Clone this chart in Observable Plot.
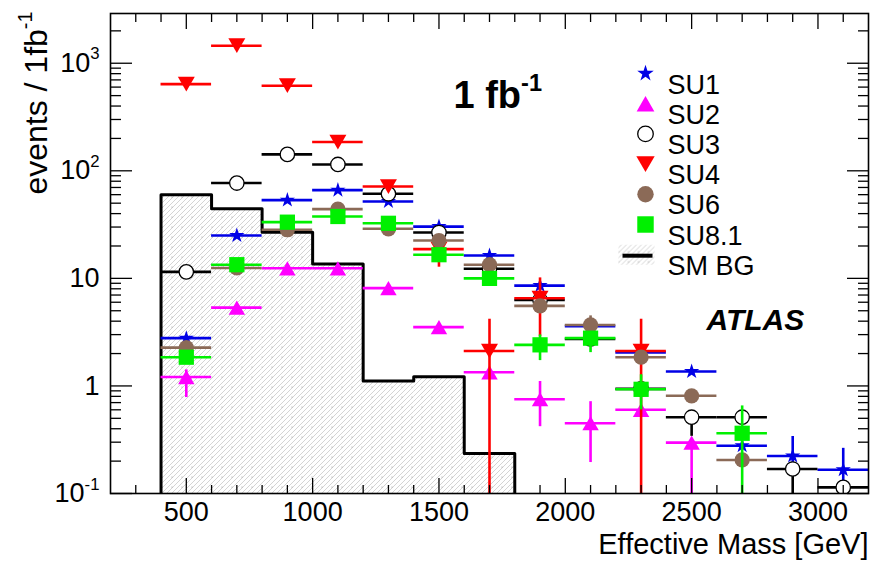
<!DOCTYPE html>
<html><head><meta charset="utf-8">
<script src="https://cdn.jsdelivr.net/npm/d3@7"></script>
<script src="https://cdn.jsdelivr.net/npm/@observablehq/plot@0.6"></script>
<style>body{margin:0;background:#fff}</style>
</head><body><div id="chart"></div><script>
// ---- data ----
const binCenters = [500,700,900,1100,1300,1500,1700,1900,2100,2300,2500,2700,2900,3100];
const binWidth = 200;
const seriesNames = ["SU1","SU2","SU3","SU4","SU6","SU8.1"];
const seriesColors = ["#0000e6","#ff00ff","#000000","#ff0000","#8b6a57","#00f000"];

const su1   = [2.78, 25.0, 53.4, 66.1, 51.8, 30.3, 16.3, 8.57, 3.6, 2.05, 1.36, 0.278, 0.223, 0.166];
const su1Lo = [null,null,null,null,null,null,null,null,null,null,null,null,0.15,0.05];
const su1Hi = [null,null,null,null,null,null,null,null,null,null,null,null,0.339,0.263];

const su2   = [1.21, 5.35, 12.4, 12.4, 8.11, 3.52, 1.34, 0.752, 0.45, 0.60, 0.297, null, null, null];
const su2Lo = [0.78,null,null,null,null,null,null,0.418,0.194,null,0.05,null,null,null];
const su2Hi = [1.41,null,null,null,null,null,null,1.10,0.714,null,null,null,null,null];

const su3   = [11.5, 76.9, 142, 114.6, 61.1, 26.7, 12.3, 6.3, 2.74, 0.94, 0.512, 0.512, 0.169, 0.114];
const su3Lo = [null,null,null,null,null,null,null,null,null,null,0.34,null,0.05,null];
const su3Hi = [null,null,null,null,null,null,null,null,null,null,null,null,null,null];

const su4   = [640, 1455, 618, 185, 71.4, 18.7, 2.11, 6.54, null, 2.11, null, null, null, null];
const su4Lo = [null,null,null,null,null,12.7,0.05,2.87,null,0.05,null,null,null,null];
const su4Hi = [null,null,null,null,null,null,4.17,10.1,null,4.17,null,null,null,null];

const su6   = [2.27, 12.5, 28.3, 44.0, 28.9, 22.5, 13.4, 5.55, 3.69, 1.85, 0.81, 0.205, null, null];
const su6Lo = [null,null,null,null,null,null,null,null,null,null,null,null,null,null];
const su6Hi = [null,null,null,null,null,null,null,null,4.48,null,null,null,null,null];

const su81   = [1.85, 13.4, 33.3, 37.6, 32.5, 16.6, 10.0, 2.41, 2.78, 0.93, null, 0.363, null, null];
const su81Lo = [null,null,null,null,null,null,null,1.72,2.04,0.6,null,0.05,null,null];
const su81Hi = [null,null,null,null,null,null,null,2.98,null,1.27,null,0.652,null,null];

const bgEdges  = [400,600,800,1000,1200,1400,1600,1800];
const bgValues = [59.8, 44.3, 26.9, 13.6, 1.11, 1.22, 0.236];

const xDomain = [200, 3200];
const yDomain = [0.1, 2900];
const xMajor = [500,1000,1500,2000,2500,3000];
const xTickLabels = ["500","1000","1500","2000","2500","3000"];
const yMajor = [0.1, 1, 10, 100, 1000];
const yTickLabels = ["10^-1","1","10","10^2","10^3"];

// ---- helpers ----
const xMinor = d3.range(300, 3200, 100).filter(v => v % 500 !== 0);
const yMinor = [];
yMajor.forEach(m => { for (let k = 2; k <= 9; k++) if (m*k < yDomain[1]) yMinor.push(m*k); });

const triUp = {draw(ctx, size){ const s=Math.sqrt(size*4/Math.sqrt(3)), h=s*Math.sqrt(3)/2;
  ctx.moveTo(0,-h/2); ctx.lineTo(s/2,h/2); ctx.lineTo(-s/2,h/2); ctx.closePath(); }};
const triDown = {draw(ctx, size){ const s=Math.sqrt(size*4/Math.sqrt(3)), h=s*Math.sqrt(3)/2;
  ctx.moveTo(-s/2,-h/2); ctx.lineTo(s/2,-h/2); ctx.lineTo(0,h/2); ctx.closePath(); }};
const swatchBox = {draw(ctx){ ctx.rect(-18,-10,36,20); }};
const swatchBar = {draw(ctx){ ctx.rect(-15,-2,30,4); }};

const seriesVals = [[su1,su1Lo,su1Hi],[su2,su2Lo,su2Hi],[su3,su3Lo,su3Hi],[su4,su4Lo,su4Hi],[su6,su6Lo,su6Hi],[su81,su81Lo,su81Hi]];
const seriesStyle = [
  {symbol: "star", r: 4.8},
  {symbol: triUp, r: 6.1},
  {symbol: "circle", r: 7.2, hollow: true},
  {symbol: triDown, r: 6.3},
  {symbol: "circle", r: 7.6},
  {symbol: "square", r: 8.6}
];

const seriesMarks = [];
seriesNames.forEach((name, si) => {
  const [vals, lo, hi] = seriesVals[si];
  const color = seriesColors[si];
  const rows = binCenters.map((x, i) => ({x, v: vals[i], lo: lo[i] ?? vals[i], hi: hi[i] ?? vals[i], err: lo[i] != null || hi[i] != null}))
    .filter(d => d.v != null);
  seriesMarks.push(
    Plot.ruleY(rows, {x1: d => d.x - binWidth/2, x2: d => d.x + binWidth/2, y: "v", stroke: color, strokeWidth: 2.6, clip: true}),
    Plot.ruleX(rows.filter(d => d.err), {x: "x", y1: "lo", y2: "hi", stroke: color, strokeWidth: 2.6, clip: true}),
    Plot.dot(rows, {x: "x", y: "v", symbol: seriesStyle[si].symbol, r: seriesStyle[si].r,
      fill: seriesStyle[si].hollow ? "white" : color,
      stroke: seriesStyle[si].hollow ? "black" : "none", strokeWidth: 1.3, clip: true})
  );
});

const bgRows = bgValues.map((v, i) => ({x1: bgEdges[i], x2: bgEdges[i+1], v}));
const bgOutline = [{x: bgEdges[0], y: yDomain[0]}, ...bgValues.map((v, i) => ({x: bgEdges[i], y: v})), {x: bgEdges[bgEdges.length-1], y: yDomain[0]}];

// legend
const legendMarks = [];
const legX = 535, legTextX = 557, legY0 = 60, legStep = 30.2;
seriesNames.forEach((name, si) => {
  const st = seriesStyle[si];
  legendMarks.push(
    Plot.dot([0], {frameAnchor: "top-left", dx: legX, dy: legY0 + si*legStep, symbol: st.symbol, r: st.r*1.08,
      fill: st.hollow ? "white" : seriesColors[si], stroke: st.hollow ? "black" : "none", strokeWidth: 1.3}),
    Plot.text([name], {frameAnchor: "top-left", dx: legTextX, dy: legY0 + si*legStep + 1, text: d => d, textAnchor: "start", fontSize: 27})
  );
});
legendMarks.push(
  Plot.dot([0], {frameAnchor: "top-left", dx: legX - 9, dy: legY0 + 6*legStep, symbol: swatchBox, fill: "url(#smhatch)", stroke: "none"}),
  Plot.dot([0], {frameAnchor: "top-left", dx: legX - 8, dy: legY0 + 6*legStep + 1, symbol: swatchBar, fill: "black", stroke: "none"}),
  Plot.text(["SM BG"], {frameAnchor: "top-left", dx: legTextX, dy: legY0 + 6*legStep + 1, text: d => d, textAnchor: "start", fontSize: 27})
);

const plot = Plot.plot({
  width: 873, height: 565,
  marginLeft: 110, marginRight: 5, marginTop: 13, marginBottom: 72,
  style: {fontFamily: "'Liberation Sans', Arial, Helvetica, sans-serif", background: "white", color: "black", overflow: "visible"},
  x: {domain: xDomain},
  y: {type: "log", domain: yDomain},
  marks: [
    Plot.rect(bgRows, {x1: "x1", x2: "x2", y1: () => yDomain[0], y2: "v", fill: "url(#smhatch)", clip: true}),
    Plot.line(bgOutline, {x: "x", y: "y", curve: "step-after", stroke: "black", strokeWidth: 3, clip: true}),
    ...seriesMarks,
    ...legendMarks,
    Plot.text(["1 fb^-1"], {frameAnchor: "top-left", dx: 343, dy: 68, text: d => d, textAnchor: "start", fontSize: 38, fontWeight: "bold"}),
    Plot.text(["ATLAS"], {frameAnchor: "top-left", dx: 596, dy: 295, text: d => d, textAnchor: "start", fontSize: 30, fontWeight: "bold", fontStyle: "italic"}),
    Plot.text(["events / 1fb^-1"], {frameAnchor: "top-left", dx: -86, dy: -2, rotate: -90, text: d => d, textAnchor: "end", fontSize: 32}),
    Plot.text(["Effective Mass [GeV]"], {frameAnchor: "bottom-right", dx: 0, dy: 60, text: d => d, textAnchor: "end", fontSize: 29}),
    // axes: inward ticks
    Plot.axisX({anchor: "bottom", ticks: xMajor, tickSize: -15, text: null, label: null, strokeWidth: 1.3}),
    Plot.axisX({anchor: "bottom", ticks: xMinor, tickSize: -8, text: null, label: null, strokeWidth: 1.3}),
    Plot.axisX({anchor: "top", ticks: xMajor, tickSize: -15, text: null, label: null, strokeWidth: 1.3}),
    Plot.axisX({anchor: "top", ticks: xMinor, tickSize: -8, text: null, label: null, strokeWidth: 1.3}),
    Plot.axisX({anchor: "bottom", ticks: xMajor, tickSize: 0, tickPadding: 8, tickFormat: d => xTickLabels[xMajor.indexOf(d)], label: null, fontSize: 27}),
    Plot.axisY({anchor: "left", ticks: yMajor, tickSize: -22, text: null, label: null, strokeWidth: 1.3}),
    Plot.axisY({anchor: "left", ticks: yMinor, tickSize: -11, text: null, label: null, strokeWidth: 1.3}),
    Plot.axisY({anchor: "right", ticks: yMajor, tickSize: -22, text: null, label: null, strokeWidth: 1.3}),
    Plot.axisY({anchor: "right", ticks: yMinor, tickSize: -11, text: null, label: null, strokeWidth: 1.3}),
    Plot.axisY({anchor: "left", ticks: yMajor, tickSize: 0, tickPadding: 11, tickFormat: d => yTickLabels[yMajor.indexOf(d)], label: null, fontSize: 27}),
    Plot.frame({stroke: "black", strokeWidth: 1.6})
  ]
});

// hatch pattern for SM background
const defs = d3.select(plot).insert("defs", ":first-child");
const pat = defs.append("pattern").attr("id", "smhatch").attr("patternUnits", "userSpaceOnUse")
  .attr("width", 10).attr("height", 10);
pat.append("rect").attr("width", 10).attr("height", 10).attr("fill", "white");
pat.append("path").attr("d", "M0,5L5,0M0,10L10,0M5,10L10,5")
  .attr("stroke", "#c2c2c2").attr("stroke-width", 0.7).attr("fill", "none");
pat.append("circle").attr("cx", 2).attr("cy", 7).attr("r", 0.6).attr("fill", "#999");

// superscripts ("^")
d3.select(plot).selectAll("text").each(function() {
  const t = this.textContent;
  const k = t.indexOf("^");
  if (k < 0) return;
  const sel = d3.select(this);
  sel.text(null);
  sel.append("tspan").text(t.slice(0, k));
  sel.append("tspan").attr("dy", "-0.75em").attr("font-size", "0.62em").text(t.slice(k + 1));
});

document.getElementById("chart").appendChild(plot);
</script></body></html>
